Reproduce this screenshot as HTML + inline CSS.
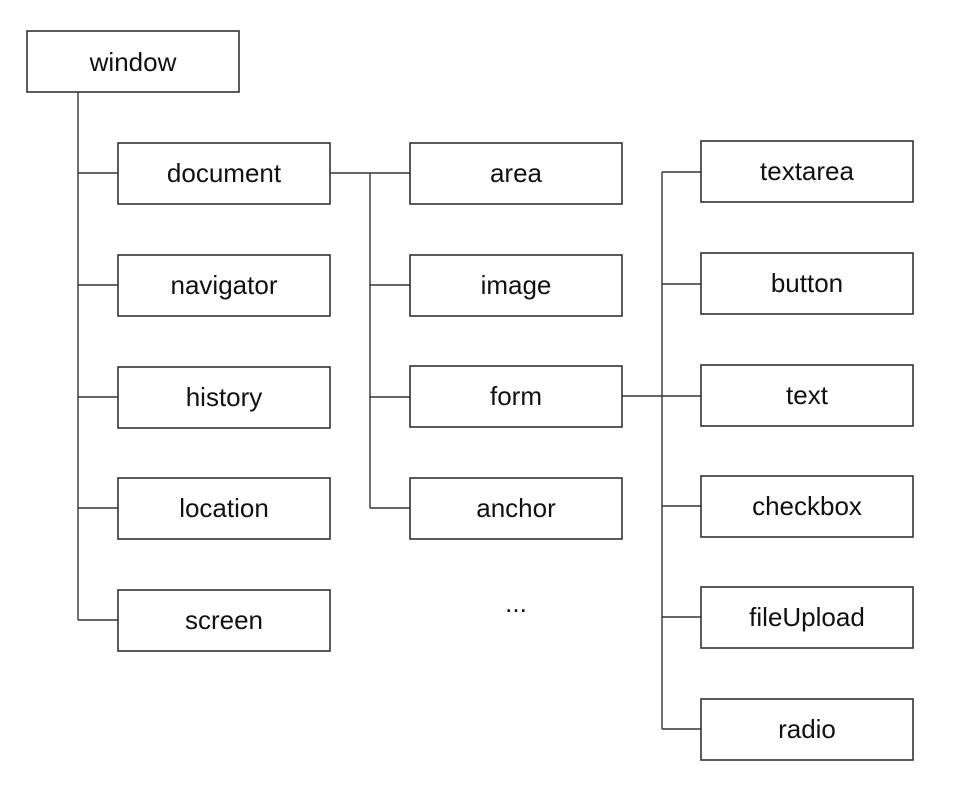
<!DOCTYPE html>
<html><head><style>
body{margin:0;background:#fff;}
svg text{font-family:"Liberation Sans",sans-serif;font-size:26px;fill:#111;text-anchor:middle;dominant-baseline:central;}
rect{fill:#fff;stroke:#333;stroke-width:1.6;}
line{stroke:#333;stroke-width:1.4;}
</style></head><body>
<svg width="980" height="804" xmlns="http://www.w3.org/2000/svg">
<line x1="78" y1="92" x2="78" y2="620"/>
<line x1="78" y1="173" x2="118" y2="173"/>
<line x1="78" y1="285" x2="118" y2="285"/>
<line x1="78" y1="397" x2="118" y2="397"/>
<line x1="78" y1="508" x2="118" y2="508"/>
<line x1="78" y1="620" x2="118" y2="620"/>
<line x1="330" y1="173" x2="410" y2="173"/>
<line x1="370" y1="173" x2="370" y2="508"/>
<line x1="370" y1="285" x2="410" y2="285"/>
<line x1="370" y1="397" x2="410" y2="397"/>
<line x1="370" y1="508" x2="410" y2="508"/>
<line x1="622" y1="396" x2="701" y2="396"/>
<line x1="662" y1="172" x2="662" y2="729"/>
<line x1="662" y1="172" x2="701" y2="172"/>
<line x1="662" y1="284" x2="701" y2="284"/>
<line x1="662" y1="506" x2="701" y2="506"/>
<line x1="662" y1="617" x2="701" y2="617"/>
<line x1="662" y1="729" x2="701" y2="729"/>
<rect x="27" y="31" width="212" height="61"/><text x="133" y="62">window</text>
<rect x="118" y="143" width="212" height="61"/><text x="224" y="173">document</text>
<rect x="118" y="255" width="212" height="61"/><text x="224" y="285">navigator</text>
<rect x="118" y="367" width="212" height="61"/><text x="224" y="397">history</text>
<rect x="118" y="478" width="212" height="61"/><text x="224" y="508">location</text>
<rect x="118" y="590" width="212" height="61"/><text x="224" y="620">screen</text>
<rect x="410" y="143" width="212" height="61"/><text x="516" y="173">area</text>
<rect x="410" y="255" width="212" height="61"/><text x="516" y="285">image</text>
<rect x="410" y="366" width="212" height="61"/><text x="516" y="396">form</text>
<rect x="410" y="478" width="212" height="61"/><text x="516" y="508">anchor</text>
<text x="516" y="603">...</text>
<rect x="701" y="141" width="212" height="61"/><text x="807" y="171">textarea</text>
<rect x="701" y="253" width="212" height="61"/><text x="807" y="283">button</text>
<rect x="701" y="365" width="212" height="61"/><text x="807" y="395">text</text>
<rect x="701" y="476" width="212" height="61"/><text x="807" y="506">checkbox</text>
<rect x="701" y="587" width="212" height="61"/><text x="807" y="617">fileUpload</text>
<rect x="701" y="699" width="212" height="61"/><text x="807" y="729">radio</text>
</svg>
</body></html>
